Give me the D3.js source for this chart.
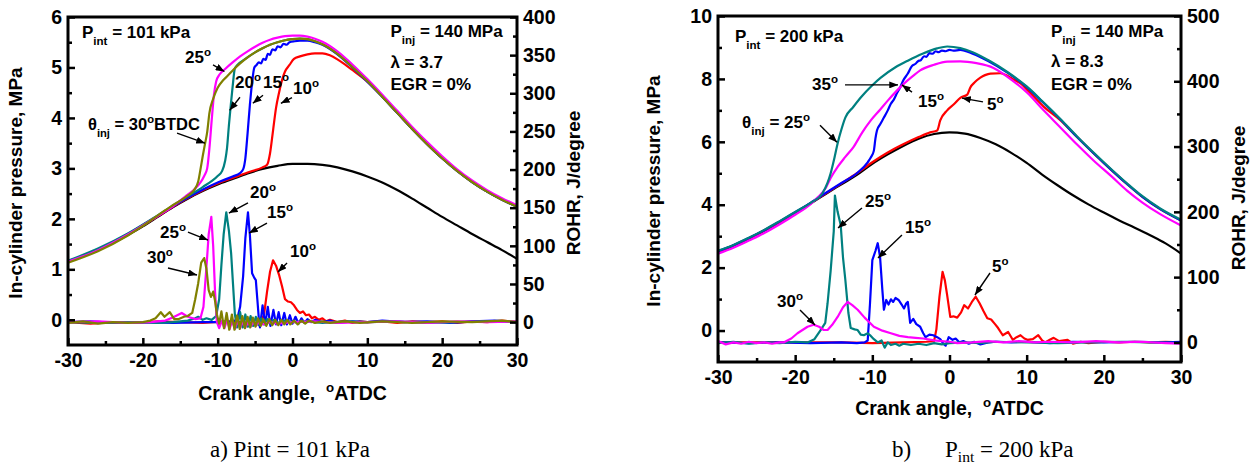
<!DOCTYPE html>
<html><head><meta charset="utf-8">
<script src="https://cdn.jsdelivr.net/npm/d3@7"></script>
<style>body{margin:0;background:#fff} text{white-space:pre}</style>
</head><body><svg id="c" width="1254" height="465"></svg>
<script>
// ---------------- DATA ----------------
// Panel a: P_int = 101 kPa. Pressure [crank angle, MPa]
const aP_black = [[-30,1.15],[-28,1.26],[-26,1.38],[-24,1.52],[-22,1.68],[-20,1.85],[-18,2.04],[-16,2.23],[-14,2.4],[-12,2.55],[-10,2.68],[-8,2.79],[-6,2.9],[-4,2.99],[-2,3.05],[0,3.09],[2,3.09],[4,3.07],[6,3.02],[8,2.94],[10,2.84],[12,2.72],[14,2.57],[16,2.4],[18,2.22],[20,2.04],[22,1.87],[24,1.7],[26,1.54],[28,1.38],[30,1.21]];
const aP_red = [[-30,1.15],[-26,1.39],[-22,1.69],[-18,2.05],[-14,2.41],[-10,2.7],[-8,2.81],[-6,2.92],[-4,3.02],[-3.4,3.07],[-3.0,3.3],[-2.6,3.75],[-2.2,4.2],[-1.8,4.5],[-1.4,4.75],[-1.0,4.92],[-0.4,5.05],[0.2,5.17],[1,5.22],[2,5.26],[3,5.28],[4,5.28],[5,5.24],[6,5.16],[7,5.06],[8,4.95],[10,4.72],[12,4.42],[14,4.1],[16,3.78],[18,3.48],[20,3.2],[22,2.95],[24,2.73],[26,2.54],[28,2.38],[30,2.24]];
const aP_blue = [[-30,1.16],[-26,1.39],[-22,1.7],[-18,2.06],[-14,2.42],[-10,2.72],[-8,2.84],[-7,2.91],[-6.6,2.98],[-6.3,3.2],[-6.0,3.7],[-5.7,4.25],[-5.4,4.7],[-5.1,5.0],[-4.8,5.05],[-4.5,5.1],[-4.2,5.08],[-3.9,5.17],[-3.6,5.15],[-3.3,5.27],[-3.0,5.25],[-2.7,5.36],[-2.3,5.34],[-2.0,5.42],[-1.6,5.4],[-1.2,5.47],[-0.8,5.45],[-0.4,5.5],[0.3,5.52],[1,5.53],[2,5.53],[3,5.5],[4,5.45],[6,5.26],[8,5.0],[10,4.72],[12,4.42],[14,4.1],[16,3.78],[18,3.48],[20,3.2],[22,2.95],[24,2.73],[26,2.54],[28,2.38],[30,2.24]];
const aP_teal = [[-30,1.17],[-26,1.41],[-22,1.71],[-18,2.07],[-14,2.45],[-12,2.63],[-10,2.85],[-9.4,2.95],[-9.0,3.15],[-8.75,3.4],[-8.5,3.85],[-8.25,4.25],[-8.0,4.62],[-7.7,4.98],[-7.3,5.06],[-6.5,5.15],[-5,5.3],[-4,5.38],[-3,5.45],[-2,5.5],[-1,5.54],[0,5.56],[1,5.57],[2,5.56],[3,5.52],[4,5.46],[6,5.27],[8,5.01],[10,4.73],[12,4.42],[14,4.1],[16,3.78],[18,3.48],[20,3.2],[22,2.95],[24,2.73],[26,2.54],[28,2.38],[30,2.24]];
const aP_magenta = [[-30,1.15],[-26,1.38],[-22,1.69],[-18,2.06],[-16,2.25],[-14,2.48],[-13,2.6],[-12.3,2.72],[-11.8,2.85],[-11.4,3.0],[-11.1,3.4],[-10.8,3.95],[-10.5,4.45],[-10.2,4.72],[-9.7,4.87],[-9,4.97],[-8,5.1],[-7,5.22],[-6,5.32],[-5,5.41],[-4,5.49],[-3,5.55],[-2,5.59],[-1,5.62],[0,5.63],[1,5.63],[2,5.61],[3,5.57],[4,5.51],[6,5.32],[8,5.06],[10,4.77],[12,4.46],[14,4.14],[16,3.82],[18,3.52],[20,3.24],[22,2.98],[24,2.76],[26,2.57],[28,2.41],[30,2.27]];
const aP_olive = [[-30,1.13],[-26,1.36],[-22,1.67],[-20,1.86],[-18,2.07],[-17,2.17],[-16,2.27],[-15,2.36],[-14,2.46],[-13.2,2.56],[-12.6,2.74],[-12.3,2.98],[-12,3.24],[-11.7,3.48],[-11.4,3.72],[-11.1,4.1],[-10.6,4.38],[-10,4.6],[-9.3,4.74],[-8.7,4.83],[-7.8,4.97],[-7,5.08],[-6,5.2],[-5,5.3],[-4,5.38],[-3,5.45],[-2,5.5],[-1,5.54],[0,5.56],[1,5.57],[2,5.56],[3,5.52],[4,5.46],[6,5.27],[8,5.01],[10,4.73],[12,4.42],[14,4.1],[16,3.78],[18,3.48],[20,3.2],[22,2.95],[24,2.73],[26,2.54],[28,2.38],[30,2.24]];
// Panel a: ROHR [crank angle, J/degree]
const aR_red = [[-30,0],[-27,-2],[-24,0],[-21,-1],[-18,1],[-15,0],[-12,-1],[-9,1],[-7,0],[-5,-1],[-4.2,1],[-3.8,10],[-3.4,40],[-3.0,66],[-2.6,81],[-2.2,74],[-1.8,62],[-1.4,47],[-1.0,30],[-0.6,27],[-0.2,26],[0.2,22],[0.6,16],[1.0,12],[1.4,14],[1.8,9],[2.2,10],[2.6,5],[3.0,7],[3.5,3],[4,5],[4.5,1],[5,3],[6,0],[7,2],[8,-1],[9,1],[10,0],[12,1],[14,-1],[16,1],[18,0],[20,1],[22,-1],[24,1],[26,0],[28,2],[30,0]];
const aR_blue = [[-30,0],[-27,1],[-24,-1],[-20,0],[-16,-1],[-12,0],[-10,0],[-8,1],[-7.4,3],[-7.0,20],[-6.6,60],[-6.3,110],[-5.95,144],[-5.7,115],[-5.4,64],[-5.1,58],[-4.9,55],[-4.7,30],[-4.5,5],[-4.35,-7],[-4.0,22],[-3.65,-3],[-3.3,20],[-2.95,-5],[-2.55,16],[-2.2,-3],[-1.85,13],[-1.5,-4],[-1.1,12],[-0.75,-3],[-0.35,9],[0,-2],[0.4,7],[0.8,-2],[1.2,5],[1.6,-1],[2,4],[2.5,0],[3,3],[4,0],[5,2],[6,-1],[8,1],[10,0],[12,2],[15,0],[18,1],[21,-1],[24,1],[27,2],[30,0]];
const aR_teal = [[-30,0],[-26,-1],[-22,0],[-18,-1],[-16,0],[-14,2],[-13,5],[-12.6,7],[-12.0,3],[-11.5,5],[-10.8,3],[-10.2,8],[-9.8,30],[-9.5,75],[-9.2,115],[-8.85,144],[-8.5,120],[-8.2,90],[-7.95,50],[-7.7,10],[-7.4,-7],[-7.0,13],[-6.65,-7],[-6.3,10],[-5.95,-6],[-5.6,8],[-5.25,-5],[-4.9,7],[-4.55,-4],[-4.2,5],[-3.8,-3],[-3.4,4],[-3,-2],[-2.5,3],[-2,-1],[-1,2],[0,0],[2,1],[4,-1],[7,1],[10,0],[14,1],[18,-1],[22,0],[26,1],[30,0]];
const aR_magenta = [[-30,0],[-26,1],[-22,-1],[-19,0],[-17,2],[-16,6],[-15.4,9],[-14.8,12],[-14,7],[-13,4],[-12.3,5],[-11.9,20],[-11.5,72],[-11.2,115],[-10.85,138],[-10.6,100],[-10.35,40],[-10.1,0],[-9.8,-8],[-9.45,2],[-9.1,-8],[-8.75,3],[-8.4,-9],[-8.05,2],[-7.7,-9],[-7.35,2],[-7.0,-8],[-6.65,1],[-6.3,-7],[-5.95,0],[-5.6,-6],[-5.25,0],[-4.9,-5],[-4.5,0],[-4,-3],[-3,0],[-2,-2],[0,0],[3,1],[6,-1],[10,0],[14,1],[18,-1],[22,1],[26,0],[30,1]];
const aR_olive = [[-30,-1],[-28,1],[-26,-2],[-24,0],[-22,-1],[-20,0],[-19,2],[-18.3,5],[-17.6,13],[-17.1,7],[-16.4,13],[-15.8,4],[-15.2,4],[-14.5,7],[-14,8],[-13.4,12],[-13,30],[-12.6,51],[-12.2,78],[-11.8,84],[-11.5,70],[-11.2,42],[-10.9,33],[-10.6,40],[-10.35,28],[-10.1,10],[-9.8,-2],[-9.5,14],[-9.15,-8],[-8.8,12],[-8.45,-10],[-8.1,10],[-7.75,-10],[-7.4,9],[-7.05,-9],[-6.7,8],[-6.35,-8],[-6.0,7],[-5.65,-7],[-5.3,6],[-4.95,-6],[-4.6,5],[-4.25,-5],[-3.9,4],[-3.5,-5],[-3.1,4],[-2.7,-4],[-2.3,3],[-1.9,-4],[-1.5,3],[-1.1,-3],[-0.7,3],[-0.3,-3],[0.2,2],[0.7,-3],[1.2,2],[1.7,-2],[2.2,2],[3,-1],[4,1],[5,-1],[7,1],[9,-1],[12,1],[16,-1],[20,1],[24,0],[28,2],[30,0]];

// Panel b: P_int = 200 kPa. Pressure [crank angle, MPa]
const bP_black = [[-30,2.5],[-28,2.7],[-26,2.92],[-24,3.17],[-22,3.45],[-20,3.74],[-18,4.04],[-16,4.35],[-14,4.65],[-12,4.95],[-10,5.3],[-8,5.6],[-6,5.87],[-4,6.1],[-2,6.25],[0,6.3],[2,6.26],[4,6.12],[6,5.92],[8,5.65],[10,5.33],[12,4.96],[14,4.62],[16,4.3],[18,4.01],[20,3.75],[22,3.5],[24,3.27],[26,3.03],[28,2.77],[30,2.45]];
const bP_red = [[-30,2.5],[-26,2.93],[-22,3.46],[-18,4.05],[-14,4.68],[-12,5.0],[-10,5.35],[-8,5.66],[-6,5.92],[-4,6.15],[-2.5,6.3],[-1.6,6.36],[-1.2,6.68],[-0.3,7.0],[0.6,7.2],[1.4,7.4],[2.3,7.5],[2.7,7.73],[3.3,7.9],[4,8.04],[4.6,8.12],[5.3,8.17],[6.6,8.18],[7.5,8.1],[8.3,7.98],[9.2,7.86],[10.2,7.62],[12.2,7.12],[14.4,6.68],[16.5,6.16],[18.7,5.63],[21,5.1],[23,4.66],[25,4.25],[27.3,3.86],[30,3.5]];
const bP_blue = [[-30,2.52],[-28,2.71],[-26,2.94],[-24,3.19],[-22,3.47],[-20,3.76],[-18,4.06],[-16,4.38],[-14,4.69],[-12,5.0],[-10.6,5.35],[-10.2,5.5],[-9.8,5.72],[-9.6,6.1],[-9.4,6.36],[-9.0,6.55],[-8.5,6.77],[-8.0,7.0],[-7.6,7.21],[-7.2,7.35],[-6.8,7.55],[-6.4,7.73],[-6.0,7.95],[-5.4,8.17],[-4.9,8.4],[-4.4,8.48],[-4.1,8.56],[-3.7,8.6],[-3.3,8.72],[-3.0,8.7],[-2.6,8.82],[-2.2,8.8],[-1.8,8.88],[-1.4,8.85],[-1,8.9],[-0.5,8.88],[0,8.92],[0.5,8.9],[1.4,8.92],[3,8.8],[5,8.57],[7.5,8.2],[10,7.74],[12,7.28],[14.4,6.7],[16.5,6.16],[18.7,5.63],[21,5.1],[23,4.66],[25,4.25],[27.3,3.86],[30,3.5]];
const bP_magenta = [[-30,2.44],[-28,2.63],[-26,2.86],[-24,3.1],[-22,3.38],[-20,3.68],[-18,4.02],[-17,4.25],[-16,4.55],[-15.4,4.85],[-14.5,5.2],[-13.5,5.52],[-12.4,5.85],[-11.3,6.3],[-10.2,6.68],[-9,7.02],[-8,7.31],[-7,7.58],[-5.9,7.85],[-4.8,8.08],[-3.8,8.27],[-2,8.45],[-0.3,8.55],[1.4,8.56],[3.5,8.5],[5.7,8.35],[8,7.98],[10.1,7.55],[12.2,7.0],[14.4,6.45],[16.5,5.92],[18.7,5.4],[21,4.9],[23,4.45],[25,4.07],[27.3,3.7],[30,3.34]];
const bP_teal = [[-30,2.54],[-28,2.72],[-26,2.95],[-24,3.2],[-22,3.48],[-20,3.77],[-18,4.06],[-16.5,4.35],[-15.8,4.7],[-15.4,5.0],[-14.9,5.5],[-14.5,5.95],[-14,6.4],[-13.5,6.77],[-12.5,7.1],[-11.5,7.41],[-10,7.8],[-8.9,8.04],[-7,8.37],[-5.4,8.58],[-3.5,8.8],[-1.6,8.97],[-0.3,9.03],[1.4,8.98],[3,8.85],[5,8.6],[7.5,8.22],[10,7.76],[12,7.3],[14.4,6.72],[16.5,6.18],[18.7,5.65],[21,5.12],[23,4.68],[25,4.27],[27.3,3.88],[30,3.52]];
// Panel b: ROHR [crank angle, J/degree]
const bR_red = [[-30,0],[-26,0],[-22,0],[-18,0],[-14,0],[-10,-1],[-6,0],[-3,1],[-2,2],[-1.7,20],[-1.3,70],[-0.9,108],[-0.6,95],[-0.3,72],[0.1,39],[0.5,40],[1,38],[1.5,46],[1.9,57],[2.4,52],[2.9,62],[3.4,70],[3.9,60],[4.4,48],[4.9,37],[5.4,35],[5.9,28],[6.3,22],[6.9,11],[7.6,16],[8.2,4],[8.7,8],[9.2,11],[9.7,6],[10.1,4],[10.8,5],[11.5,11],[12,3],[12.4,0],[13,4],[13.5,7],[14.2,2],[15.3,4],[16,-2],[17,1],[18,-1],[20,1],[22,0],[24,1],[26,0],[28,1],[30,0]];
const bR_blue = [[-30,0],[-26,-1],[-22,0],[-18,-1],[-14,0],[-12,-1],[-11,0],[-10.6,3],[-10.3,60],[-10,126],[-9.6,140],[-9.3,152],[-9,131],[-8.7,80],[-8.5,50],[-8.2,65],[-7.9,58],[-7.6,66],[-7.3,62],[-7.0,68],[-6.6,65],[-6.2,58],[-5.9,52],[-5.6,60],[-5.4,62],[-5.1,30],[-4.7,36],[-4.3,28],[-3.8,24],[-3.4,14],[-3.1,8],[-2.6,12],[-2.1,11],[-1.6,8],[-1.2,5],[-0.8,-2],[-0.5,-5],[-0.1,8],[0.4,4],[0.8,6],[1.3,0],[1.8,2],[2.5,-2],[3.2,1],[4,-3],[5,0],[6,1],[8,0],[10,1],[13,-1],[16,1],[20,0],[24,1],[28,0],[30,1]];
const bR_teal = [[-30,-1],[-28,1],[-26,-2],[-24,0],[-22,-1],[-20,1],[-18.4,0],[-17.5,5],[-16.7,19],[-16.1,30],[-15.8,60],[-15.4,110],[-15,170],[-14.85,225],[-14.5,200],[-14.1,180],[-13.8,130],[-13.5,96],[-13.1,45],[-12.8,22],[-12.3,20],[-11.9,19],[-11.5,12],[-11.1,11],[-10.6,14],[-10.2,10],[-9.8,5],[-9.3,0],[-8.8,3],[-8.4,-8],[-8,0],[-7.6,-4],[-7,-2],[-6.5,-5],[-6,-2],[-5,-4],[-4,-2],[-3,-4],[-2,-1],[-1,-3],[0,-1],[2,0],[4,-1],[6,1],[10,0],[14,-1],[18,0],[22,1],[26,0],[30,-1]];
const bR_magenta = [[-30,2],[-29,-3],[-28,0],[-27,-2],[-26,1],[-25,-1],[-24,0],[-23,-2],[-22,0],[-21.5,0],[-20.5,6],[-19.7,14],[-18.4,24],[-17.6,27],[-16.9,24],[-16.3,19],[-15.8,19],[-15.2,27],[-14.5,39],[-13.8,54],[-13.2,62],[-12.6,57],[-11.9,50],[-11,38],[-9.8,24],[-8.7,18],[-7.6,14],[-6.5,10],[-5.4,8],[-4.4,7],[-3.4,6],[-2,3],[-1,2],[0,1],[1,-1],[3,0],[5,2],[7,0],[9,2],[11,0],[13,1],[16,0],[19,2],[22,0],[25,1],[28,-1],[30,-2]];

// Tick values
const xMajor = [-30,-20,-10,0,10,20,30];
const xMinor = [-25,-15,-5,5,15,25];
const aLeftMajor = [0,1,2,3,4,5,6];
const aLeftMinor = [0.5,1.5,2.5,3.5,4.5,5.5];
const aRightMajor = [0,50,100,150,200,250,300,350,400];
const aRightMinor = [25,75,125,175,225,275,325,375];
const bLeftMajor = [0,2,4,6,8,10];
const bLeftMinor = [1,3,5,7,9];
const bRightMajor = [0,100,200,300,400,500];
const bRightMinor = [50,150,250,350,450];

// Colours
const RED="#ff0000", BLUE="#0000ff", TEAL="#008080", MAG="#ff00ff", OLIVE="#808000", BLK="#000000";
const FONT = "'Liberation Sans', Arial, Helvetica, sans-serif";
const SERIF = "'Liberation Serif', 'Times New Roman', serif";

// ---------------- DRAWING ----------------
const svg = d3.select("#c");
svg.append("rect").attr("width",1254).attr("height",465).attr("fill","#fff");
const defs = svg.append("defs");
defs.append("marker").attr("id","ah").attr("viewBox","0 0 10 8").attr("refX",10).attr("refY",4)
  .attr("markerWidth",9).attr("markerHeight",7).attr("markerUnits","userSpaceOnUse").attr("orient","auto")
  .append("path").attr("d","M0,0L10,4L0,8Z").attr("fill","#000");

function rich(parent, x, y, segs, size, anchor, family, weight, subK) {
  const t = parent.append("text").attr("x",x).attr("y",y).attr("font-size",size)
    .attr("font-family",family||FONT).attr("font-weight",weight||"bold")
    .attr("text-anchor",anchor||"start").attr("fill","#000");
  let cur = 0;
  segs.forEach(([str, kind]) => {
    const off = kind==="sub" ? size*(subK||0.4) : kind==="sup" ? -size*0.4 : 0;
    const ts = t.append("tspan").attr("dy", off-cur).text(str);
    if (kind) ts.attr("font-size", size*0.68);
    cur = off;
  });
  return t;
}

function drawPanel(c) {
  const g = svg.append("g");
  const x = d3.scaleLinear().domain([-30,30]).range([c.L, c.R]);
  const yL = d3.scaleLinear().domain(c.yLDom).range([c.B, c.T]);
  const yR = d3.scaleLinear().domain(c.yRDom).range([c.B, c.T]);
  const cid = "clip"+c.id;
  defs.append("clipPath").attr("id",cid).append("rect")
    .attr("x",c.L).attr("y",c.T).attr("width",c.R-c.L).attr("height",c.B-c.T);
  const plot = g.append("g").attr("clip-path",`url(#${cid})`);
  c.series.forEach(s => {
    const ys = s.axis==="R" ? yR : yL;
    const line = d3.line().x(d=>x(d[0])).y(d=>ys(d[1]))
      .curve(s.axis==="R" ? d3.curveLinear : d3.curveMonotoneX);
    plot.append("path").datum(s.data).attr("d",line).attr("fill","none")
      .attr("stroke",s.color).attr("stroke-width",2.2).attr("stroke-linejoin","round");
  });
  g.append("rect").attr("x",c.L).attr("y",c.T).attr("width",c.R-c.L).attr("height",c.B-c.T)
    .attr("fill","none").attr("stroke","#000").attr("stroke-width",3);
  const fmt = d => String(d);
  function st(sel){
    sel.select(".domain").remove();
    sel.selectAll(".tick line").attr("stroke","#000").attr("stroke-width",2.5);
    sel.selectAll("text").attr("font-family",FONT).attr("font-weight","bold").attr("font-size",19.5).attr("fill","#000");
  }
  g.append("g").attr("transform",`translate(0,${c.B})`).call(d3.axisBottom(x).tickValues(xMajor).tickSize(-7).tickPadding(8).tickFormat(fmt)).call(st);
  g.append("g").attr("transform",`translate(0,${c.B})`).call(d3.axisBottom(x).tickValues(xMinor).tickSize(-4).tickFormat("")).call(st);
  g.append("g").attr("transform",`translate(${c.L},0)`).call(d3.axisLeft(yL).tickValues(c.lMaj).tickSize(-7).tickPadding(6).tickFormat(fmt)).call(st);
  g.append("g").attr("transform",`translate(${c.L},0)`).call(d3.axisLeft(yL).tickValues(c.lMin).tickSize(-4).tickFormat("")).call(st);
  g.append("g").attr("transform",`translate(${c.R},0)`).call(d3.axisRight(yR).tickValues(c.rMaj).tickSize(-7).tickPadding(6).tickFormat(fmt)).call(st);
  g.append("g").attr("transform",`translate(${c.R},0)`).call(d3.axisRight(yR).tickValues(c.rMin).tickSize(-4).tickFormat("")).call(st);

  // axis titles
  rich(g, (c.L+c.R)/2, c.xTitleY, [["Crank angle,  "],["o","sup"],["ATDC"]], 19.5, "middle");
  const lt = g.append("g").attr("transform",`translate(${c.lTitleX},${c.lTitleY}) rotate(-90)`);
  rich(lt, 0, 0, [["In-cylinder pressure, MPa"]], 19, "middle");
  const rt = g.append("g").attr("transform",`translate(${c.rTitleX},${c.rTitleY}) rotate(-90)`);
  rich(rt, 0, 0, [["ROHR, J/degree"]], 19, "middle");

  // annotations
  c.notes.forEach(n => {
    const ys = n.ax==="R" ? yR : yL;
    rich(g, x(n.at[0]), ys(n.at[1]), n.segs, n.size||17, "start");
    if (n.from) {
      g.append("line").attr("x1",x(n.from[0])).attr("y1",ys(n.from[1]))
        .attr("x2",x(n.to[0])).attr("y2",ys(n.to[1]))
        .attr("stroke","#000").attr("stroke-width",1.4).attr("marker-end","url(#ah)");
    }
  });
}

const deg = s => [[s],["o","sup"]];

drawPanel({
  id:"a", L:68, R:517, T:17, B:345, yLDom:[-0.5,6], yRDom:[-30,400],
  lMaj:aLeftMajor, lMin:aLeftMinor, rMaj:aRightMajor, rMin:aRightMinor,
  xTitleY:400, lTitleX:22, lTitleY:183, rTitleX:580, rTitleY:183,
  series:[
    {data:aP_black,color:BLK},{data:aP_red,color:RED},{data:aP_blue,color:BLUE},
    {data:aP_teal,color:TEAL},{data:aP_magenta,color:MAG},{data:aP_olive,color:OLIVE},
    {data:aR_red,color:RED,axis:"R"},{data:aR_blue,color:BLUE,axis:"R"},{data:aR_teal,color:TEAL,axis:"R"},
    {data:aR_magenta,color:MAG,axis:"R"},{data:aR_olive,color:OLIVE,axis:"R"}
  ],
  notes:[
    {ax:"L", at:[-28.13,5.58], segs:[["P"],["int","sub"],[" = 101 kPa"]]},
    {ax:"L", at:[13.08,5.6], segs:[["P"],["inj","sub"],[" = 140 MPa"]]},
    {ax:"L", at:[13.08,4.99], segs:[["λ = 3.7"]]},
    {ax:"L", at:[13.08,4.55], segs:[["EGR = 0%"]]},
    {ax:"L", at:[-14.37,5.09], segs:deg("25"), from:[-10.62,5.05], to:[-9.1,4.92]},
    {ax:"L", at:[-7.68,4.59], segs:deg("20"), from:[-7.02,4.41], to:[-8.4,4.15]},
    {ax:"L", at:[-3.94,4.59], segs:deg("15"), from:[-3.94,4.45], to:[-5.3,4.29]},
    {ax:"L", at:[0.07,4.47], segs:deg("10"), from:[-0.07,4.4], to:[-1.55,4.29]},
    {ax:"L", at:[-27.33,3.76], segs:[["θ"],["inj","sub"],[" = 30"],["o","sup"],["BTDC"]], size:16.5, from:[-15.43,3.7], to:[-11.69,3.5]},
    {ax:"R", at:[-5.68,162.7], segs:deg("20"), from:[-5.95,156.2], to:[-8.5,143]},
    {ax:"R", at:[-3.41,136.5], segs:deg("15"), from:[-3.41,129.9], to:[-5.8,116.8]},
    {ax:"R", at:[-17.71,110.3], segs:deg("25"), from:[-13.97,118.1], to:[-11.29,107.6]},
    {ax:"R", at:[-19.45,77.5], segs:deg("30"), from:[-16.64,70.9], to:[-12.76,61.8]},
    {ax:"R", at:[-0.33,85.4], segs:deg("10"), from:[-0.73,77.5], to:[-1.94,65.7]}
  ]
});

drawPanel({
  id:"b", L:718, R:1181, T:16, B:362, yLDom:[-1,10], yRDom:[-30,500],
  lMaj:bLeftMajor, lMin:bLeftMinor, rMaj:bRightMajor, rMin:bRightMinor,
  xTitleY:415, lTitleX:660, lTitleY:191, rTitleX:1245, rTitleY:198,
  series:[
    {data:bP_black,color:BLK},{data:bP_red,color:RED},{data:bP_blue,color:BLUE},
    {data:bP_magenta,color:MAG},{data:bP_teal,color:TEAL},
    {data:bR_red,color:RED,axis:"R"},{data:bR_blue,color:BLUE,axis:"R"},
    {data:bR_teal,color:TEAL,axis:"R"},{data:bR_magenta,color:MAG,axis:"R"}
  ],
  notes:[
    {ax:"L", at:[-27.8,9.17], segs:[["P"],["int","sub"],[" = 200 kPa"]]},
    {ax:"L", at:[13.15,9.33], segs:[["P"],["inj","sub"],[" = 140 MPa"]]},
    {ax:"L", at:[13.15,8.38], segs:[["λ = 8.3"]]},
    {ax:"L", at:[13.15,7.65], segs:[["EGR = 0%"]]},
    {ax:"L", at:[-17.82,7.65], segs:deg("35"), from:[-13.54,7.81], to:[-6.67,7.81]},
    {ax:"L", at:[-4.08,7.11], segs:deg("15"), from:[-4.86,7.58], to:[-6.16,7.81]},
    {ax:"L", at:[-26.89,6.44], segs:[["θ"],["inj","sub"],[" = 25"],["o","sup"]], from:[-16.78,6.53], to:[-14.58,5.99]},
    {ax:"L", at:[4.86,7.01], segs:deg("5"), from:[4.34,7.27], to:[1.62,7.39]},
    {ax:"R", at:[-10.95,207.4], segs:deg("25"), from:[-11.34,205.9], to:[-14.45,175.2]},
    {ax:"R", at:[-5.77,167.6], segs:deg("15"), from:[-6.16,164.5], to:[-9.27,129.3]},
    {ax:"R", at:[-22.35,54.3], segs:deg("30"), from:[-19.37,49.7], to:[-17.43,26.7]},
    {ax:"R", at:[5.5,107.9], segs:deg("5"), from:[5.25,106.3], to:[3.3,72.6]}
  ]
});

// captions
rich(svg, 210, 457, [["a) Pint = 101 kPa"]], 23, "start", SERIF, "normal");
rich(svg, 892, 457, [["b)"]], 23, "start", SERIF, "normal");
rich(svg, 945, 457, [["P"],["int","sub"],[" = 200 kPa"]], 23, "start", SERIF, "normal", 0.22);
</script>
</body></html>
